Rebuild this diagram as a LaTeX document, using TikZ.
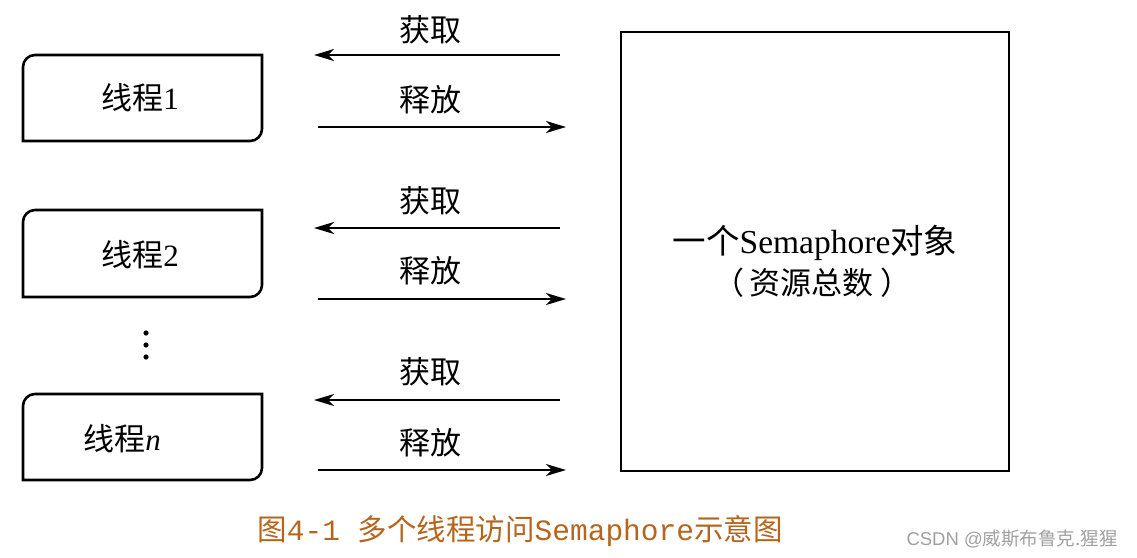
\documentclass[tikz,border=0pt]{standalone}
\usepackage{fontspec}
\setmainfont{Liberation Serif}
\newfontfamily\cjk{Noto Sans CJK SC}
\newfontfamily\capmono{Liberation Mono}
\newfontfamily\wmfont{Liberation Sans}
\usetikzlibrary{arrows.meta}
\definecolor{capcol}{HTML}{B5651D}
\definecolor{wmcol}{HTML}{A0A0A0}
\tikzset{
  lbl/.style={inner sep=0pt, font=\fontsize{31}{36}\selectfont},
  thrbox/.style={line width=2.6pt},
  conn/.style={line width=1.8pt, -{Stealth[length=20pt,width=12pt,inset=6pt]}},
}
\begin{document}
\begin{tikzpicture}[x=1pt,y=-1pt]
\useasboundingbox[fill=white] (0,0) rectangle (1137,557);
% thread boxes
\foreach \T/\B in {55/141, 210/297, 394/480}{
  \draw[thrbox] (23,\B) -- (23,\T+12) arc[start angle=180,end angle=270,radius=12]
    -- (262,\T) -- (262,\B-12) arc[start angle=0,end angle=90,radius=12] -- cycle;
}
\node[lbl] (t1) at (140,98) {{\cjk 线程}1};
\node[lbl] (t2) at (140,255) {{\cjk 线程}2};
\node[lbl] (tn) at (122,439) {{\cjk 线程}\textit{n}};
% dots
\foreach \y [count=\i] in {333,345,357}{ \fill (146,\y) circle (2.6); }
% big box
\draw[line width=2.8pt] (621,32) rectangle (1009,471);
\node[lbl, font=\fontsize{33.5}{38}\selectfont] (sem) at (815,243) {{\cjk 一个}Semaphore{\cjk 对象}};
\node[lbl] (res) at (812,283) {{\cjk （}\hspace{6pt}{\cjk 资源总数}\hspace{6pt}{\cjk ）}};
% arrows
\foreach \a/\r/\k in {55/127/1, 228/299/2, 400/470/3}{
  \coordinate (gs\k) at (560,\a);
  \coordinate (ge\k) at (314,\a);
  \coordinate (rs\k) at (318,\r);
  \coordinate (re\k) at (566,\r);
  \draw[conn] (gs\k) -- (ge\k);
  \draw[conn] (rs\k) -- (re\k);
}
\node[lbl] (g1) at (430,30) {\cjk 获取};
\node[lbl] (r1) at (430,100) {\cjk 释放};
\node[lbl] (g2) at (430,201) {\cjk 获取};
\node[lbl] (r2) at (430,271) {\cjk 释放};
\node[lbl] (g3) at (430,372) {\cjk 获取};
\node[lbl] (r3) at (430,443) {\cjk 释放};
% caption
\node[inner sep=0pt, text=capcol, font=\fontsize{29.5}{35}\selectfont] (cap) at (520,531)
  {{\cjk 图}{\capmono 4-1 }{\cjk 多个线程访问}{\capmono Semaphore}{\cjk 示意图}};
\node[inner sep=0pt, text=wmcol, font=\fontsize{18.5}{22}\selectfont] (wm) at (1012,539)
  {{\wmfont CSDN @}{\cjk 威斯布鲁克.猩猩}};
\end{tikzpicture}
\end{document}
